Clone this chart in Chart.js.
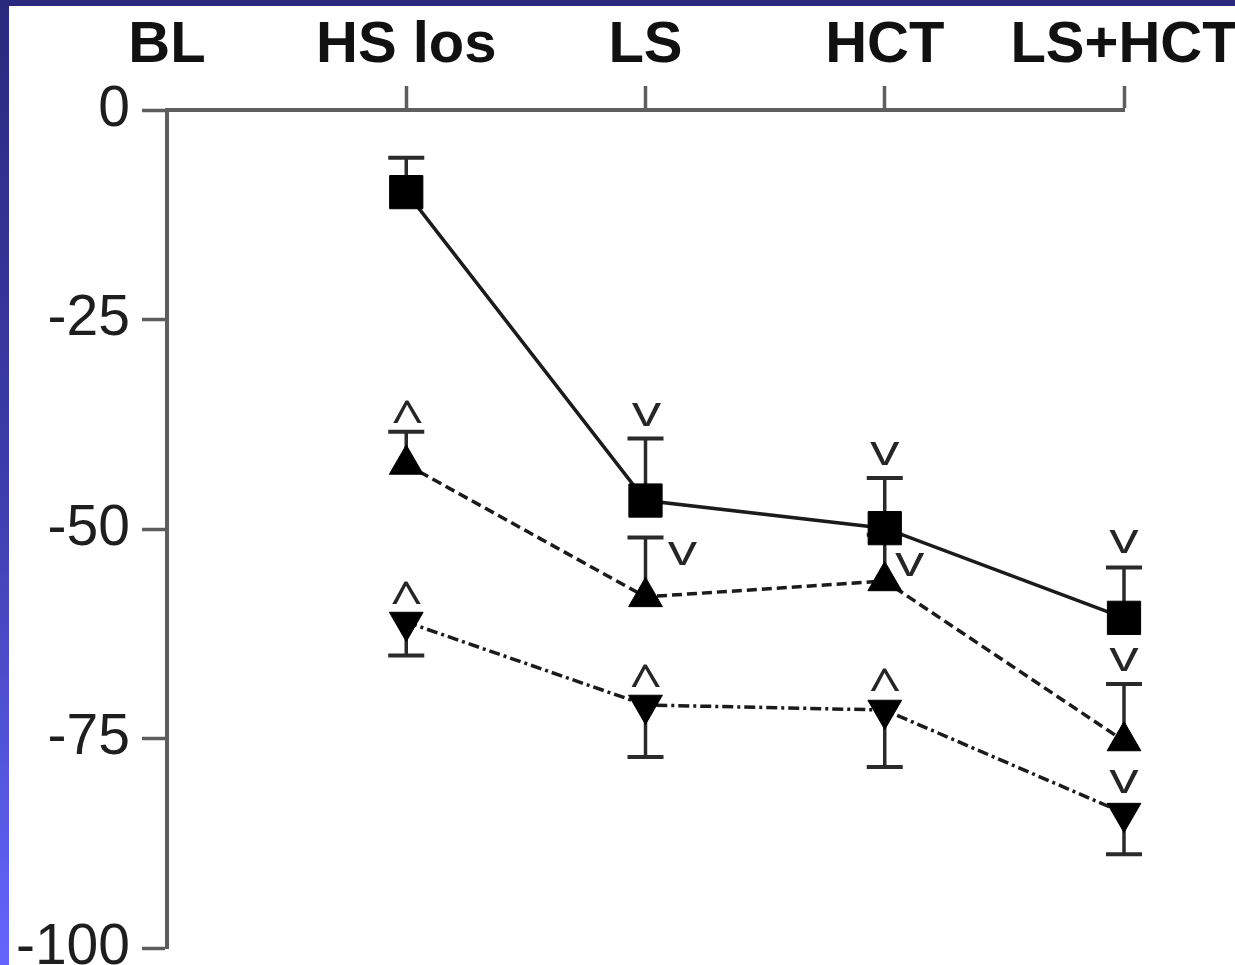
<!DOCTYPE html>
<html>
<head>
<meta charset="utf-8">
<script src="https://cdn.jsdelivr.net/npm/chart.js@4/dist/chart.umd.min.js"></script>
<style>
  html, body { margin: 0; padding: 0; width: 1235px; height: 965px; overflow: hidden; }
  body { background: linear-gradient(to bottom, #29297e 0%, #3d3dab 50%, #6565ff 100%); }
  #frame { position: absolute; left: 9px; top: 6px; width: 1226px; height: 1000px; background: #ffffff; }
  canvas { display: block; }
</style>
</head>
<body>
<div id="frame"><canvas id="chart" width="1226" height="1000"></canvas></div>
<script>
// Treatment periods along the top axis
const categories = ['BL', 'HS los', 'LS', 'HCT', 'LS+HCT'];
// Change from baseline, y-axis ticks
const yTicks = [0, -25, -50, -75, -100];

// Series drawn with filled squares (solid line), one-sided SEM upward
const squareValues = [null, -9.8, -46.6, -49.9, -60.6];
const squareErrors = [null, 4.1, 7.4, 6.0, 6.0];
const squareMarks  = ['', '', 'v', 'v', 'v'];

// Series drawn with up triangles (dashed line), one-sided SEM upward
const upValues = [null, -42.3, -58.1, -56.2, -75.3];
const upErrors = [null, 3.9, 7.1, 5.5, 6.8];
const upMarks  = ['', '^', 'v', 'v', 'v'];

// Series drawn with down triangles (dash-dot line), one-sided SEM downward
const downValues = [null, -61.1, -71.0, -71.6, -83.9];
const downErrors = [null, 4.0, 6.2, 6.8, 4.9];
const downMarks  = ['', '^', '^', '^', 'v'];

const INK = '#1b1b1b';
const AXIS = '#5e5e5e';
const FONT = 'Liberation Sans, Arial, Helvetica, sans-serif';

// Where each significance symbol sits relative to its point (px)
const markPlacement = [
  [null, null, [1, -86], [0, -75], [0, -76]],
  [null, [1, -54], [37, -43], [25, -16], [0, -82]],
  [null, [0, -30], [0, -30], [0, -31], [0, -32]]
];

// Vertical one-sided error bars, painted under the symbols
const errorBars = {
  id: 'errorBars',
  beforeDatasetsDraw(chart, args, opts) {
    const { ctx } = chart;
    const yScale = chart.scales.y;
    chart.data.datasets.forEach((ds, i) => {
      const meta = chart.getDatasetMeta(i);
      ds.errors.forEach((e, j) => {
        if (e == null || ds.data[j] == null) return;
        const pt = meta.data[j];
        const yEnd = yScale.getPixelForValue(ds.data[j] + ds.errorDir * e);
        ctx.save();
        ctx.strokeStyle = opts.color;
        ctx.lineWidth = opts.stemWidth;
        ctx.beginPath();
        ctx.moveTo(pt.x, pt.y);
        ctx.lineTo(pt.x, yEnd);
        ctx.stroke();
        ctx.lineWidth = opts.capWidth;
        ctx.beginPath();
        ctx.moveTo(pt.x - opts.capHalf, yEnd);
        ctx.lineTo(pt.x + opts.capHalf, yEnd);
        ctx.stroke();
        ctx.restore();
      });
    });
  }
};

// Draws a text glyph so that its ink box fills w x h around (cx, cy)
function drawGlyph(ctx, text, cx, cy, w, h, font, color) {
  ctx.save();
  ctx.font = font;
  ctx.textAlign = 'left';
  ctx.textBaseline = 'alphabetic';
  const m = ctx.measureText(text);
  const inkW = m.actualBoundingBoxLeft + m.actualBoundingBoxRight;
  const inkH = m.actualBoundingBoxAscent + m.actualBoundingBoxDescent;
  ctx.translate(cx, cy);
  ctx.scale(w / inkW, h / inkH);
  ctx.fillStyle = color;
  ctx.fillText(text,
    -(m.actualBoundingBoxRight - m.actualBoundingBoxLeft) / 2,
    (m.actualBoundingBoxAscent - m.actualBoundingBoxDescent) / 2);
  ctx.restore();
}

// Significance symbols (^ / v) next to the points
const sigMarks = {
  id: 'sigMarks',
  afterDatasetsDraw(chart, args, opts) {
    const { ctx } = chart;
    chart.data.datasets.forEach((ds, i) => {
      const meta = chart.getDatasetMeta(i);
      ds.marks.forEach((s, j) => {
        if (!s || ds.data[j] == null) return;
        const off = opts.placement[i][j];
        const pt = meta.data[j];
        const size = s === '^' ? opts.caretSize : opts.veeSize;
        drawGlyph(ctx, s, pt.x + off[0], pt.y + off[1], size[0], size[1], opts.font, opts.color);
      });
    });
  }
};

new Chart(document.getElementById('chart'), {
  type: 'line',
  data: {
    labels: categories,
    datasets: [
      {
        data: squareValues, errors: squareErrors, errorDir: 1, marks: squareMarks,
        borderColor: INK, borderWidth: 3.5, backgroundColor: '#000',
        pointStyle: 'rect', pointRadius: 23.5, pointBorderWidth: 1,
        pointBackgroundColor: '#000', pointBorderColor: '#000', clip: false
      },
      {
        data: upValues, errors: upErrors, errorDir: 1, marks: upMarks,
        borderColor: INK, borderWidth: 3.5, borderDash: [10, 5], backgroundColor: '#000',
        pointStyle: 'triangle', pointRadius: 19.5, pointBorderWidth: 1,
        pointBackgroundColor: '#000', pointBorderColor: '#000', clip: false
      },
      {
        data: downValues, errors: downErrors, errorDir: -1, marks: downMarks,
        borderColor: INK, borderWidth: 3.5, borderDash: [11, 4, 3, 4], backgroundColor: '#000',
        pointStyle: 'triangle', pointRotation: 180, pointRadius: 19.5, pointBorderWidth: 1,
        pointBackgroundColor: '#000', pointBorderColor: '#000', clip: false
      }
    ]
  },
  options: {
    responsive: false,
    animation: false,
    devicePixelRatio: 1,
    layout: { padding: { left: 0, top: 0, right: 111, bottom: 58 } },
    plugins: {
      legend: { display: false },
      tooltip: { enabled: false },
      errorBars: { color: '#2a2a2a', stemWidth: 3.5, capWidth: 4, capHalf: 18 },
      sigMarks: {
        placement: markPlacement,
        veeSize: [29, 23],
        caretSize: [30, 23],
        font: '400 48px "Open Sans", ' + FONT,
        color: '#262626'
      }
    },
    scales: {
      x: {
        type: 'category',
        position: 'top',
        offset: false,
        afterFit(scale) {
          scale.height = 104;
          // the last label may run past the frame edge
          scale.paddingLeft = 0;
          scale.paddingRight = 0;
        },
        border: { display: true, color: AXIS, width: 4 },
        grid: {
          display: true, drawOnChartArea: false, drawTicks: true, tickLength: 24, tickWidth: 3.5,
          tickColor: (ctx) => ctx.index === 0 ? 'rgba(0,0,0,0)' : AXIS
        },
        ticks: {
          color: '#111',
          font: { family: FONT, size: 58, weight: 'bold' },
          padding: 5,
          maxRotation: 0, minRotation: 0, autoSkip: false
        }
      },
      y: {
        type: 'linear',
        min: yTicks[yTicks.length - 1],
        max: yTicks[0],
        afterFit(scale) { scale.width = 158; },
        afterBuildTicks(scale) { scale.ticks = yTicks.map(v => ({ value: v })); },
        border: { display: true, color: AXIS, width: 4 },
        grid: {
          display: true, drawOnChartArea: false, drawTicks: true, tickLength: 25, tickWidth: 3.5,
          tickColor: AXIS
        },
        ticks: {
          color: '#1e1e1e',
          font: { family: FONT, size: 57, weight: 'normal' },
          padding: 12,
          autoSkip: false,
          callback: (v) => String(v)
        }
      }
    }
  },
  plugins: [errorBars, sigMarks]
});
</script>
</body>
</html>
